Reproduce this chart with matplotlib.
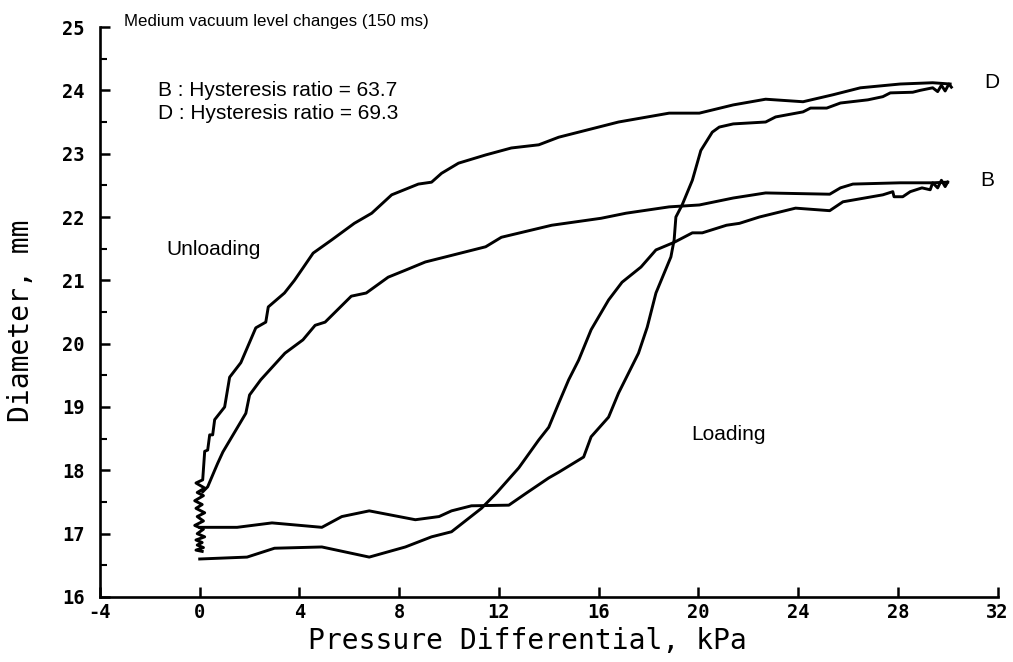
import matplotlib.pyplot as plt
from matplotlib.ticker import MultipleLocator

# D loop, loading branch (kPa, mm)
d_load_x = [0.0, 1.5, 2.9, 4.9, 5.7, 6.8, 8.65, 9.6, 10.1, 10.9, 12.4, 13.1, 14.0, 14.4,
            15.4, 15.7, 16.4, 16.8, 17.6, 17.95, 18.3, 18.9, 19.03, 19.1, 19.35, 19.76,
            20.1, 20.56, 20.84, 21.4, 22.7, 23.1, 24.2, 24.5, 25.15, 25.7, 26.8, 27.4,
            27.7, 28.6, 28.9, 29.4, 29.6, 29.75, 29.9, 30.05, 30.15]
d_load_y = [17.1, 17.1, 17.17, 17.1, 17.27, 17.36, 17.22, 17.27, 17.36, 17.44, 17.45, 17.64,
            17.88, 17.97, 18.21, 18.53, 18.84, 19.22, 19.85, 20.26, 20.8, 21.37, 21.64, 22.0,
            22.19, 22.58, 23.05, 23.34, 23.42, 23.47, 23.5, 23.58, 23.66, 23.72, 23.72, 23.8,
            23.85, 23.9, 23.96, 23.97, 24.0, 24.04, 23.98, 24.08, 23.99, 24.1, 24.05]

# D loop, unloading branch
d_unload_x = [30.1, 29.4, 28.1, 26.5, 25.4, 24.2, 22.7, 21.4, 20.04, 18.83, 16.8, 15.5, 14.4,
              13.6, 12.5, 11.47, 10.38, 9.7, 9.3, 8.77, 7.7, 6.9, 6.2, 5.3, 4.55, 4.15, 3.8,
              3.4, 2.75, 2.65, 2.25, 1.65, 1.2, 1.0, 0.6, 0.52, 0.4, 0.32, 0.2, 0.12,
              -0.15, 0.2, -0.1, 0.15, -0.2, 0.1, -0.15, 0.2, -0.1, 0.15, -0.2, 0.15, -0.1,
              0.2, -0.15, 0.1, -0.1, 0.15, -0.15, 0.1]
d_unload_y = [24.1, 24.12, 24.1, 24.04, 23.93, 23.82, 23.86, 23.77, 23.64, 23.64, 23.5, 23.37,
              23.26, 23.14, 23.09, 22.98, 22.85, 22.69, 22.55, 22.52, 22.35, 22.06, 21.9,
              21.64, 21.43, 21.2, 21.0, 20.8, 20.58, 20.34, 20.25, 19.7, 19.47, 19.0, 18.8,
              18.56, 18.56, 18.32, 18.3, 17.85,
              17.8, 17.72, 17.65, 17.6, 17.52, 17.46, 17.4, 17.33, 17.27, 17.2, 17.13,
              17.07, 17.0, 16.95, 16.9, 16.86, 16.82, 16.78, 16.74, 16.72]

# B loop, loading branch
b_load_x = [0.0, 1.9, 3.0, 4.9, 6.8, 8.25, 9.3, 10.1, 11.3, 11.9, 12.8, 13.6, 14.0, 14.4,
            14.8, 15.2, 15.7, 16.4, 16.94, 17.7, 18.3, 19.03, 19.76, 20.16, 21.13, 21.65,
            22.45, 23.9, 25.27, 25.8, 27.4, 27.8, 27.85, 28.2, 28.5, 28.97, 29.3, 29.4,
            29.6, 29.75, 29.9, 30.0]
b_load_y = [16.6, 16.63, 16.77, 16.79, 16.63, 16.79, 16.95, 17.03, 17.4, 17.64, 18.04, 18.48,
            18.68, 19.06, 19.43, 19.74, 20.22, 20.69, 20.97, 21.21, 21.48, 21.6, 21.75, 21.75,
            21.87, 21.9, 22.0, 22.14, 22.1, 22.24, 22.35, 22.4, 22.32, 22.32, 22.4, 22.46,
            22.43, 22.54, 22.46, 22.58, 22.48, 22.55]

# B loop, unloading branch
b_unload_x = [30.0, 29.4, 28.1, 26.2, 25.7, 25.27, 22.7, 21.4, 20.04, 18.83, 17.1, 16.1, 14.12,
              12.1, 11.47, 9.86, 9.05, 8.25, 7.56, 6.68, 6.08, 5.03, 4.63, 4.14, 3.42, 2.45,
              2.0, 1.85, 0.93, 0.72, 0.6, 0.32, 0.12]
b_unload_y = [22.55, 22.54, 22.54, 22.52, 22.46, 22.36, 22.38, 22.3, 22.19, 22.16, 22.06, 21.98,
              21.87, 21.68, 21.53, 21.37, 21.29, 21.16, 21.05, 20.8, 20.75, 20.34, 20.29, 20.06,
              19.85, 19.43, 19.19, 18.9, 18.29, 18.11, 18.0, 17.74, 17.66]

x_ticks = [-4, 0, 4, 8, 12, 16, 20, 24, 28, 32]
x_tick_labels = ['-4', '0', '4', '8', '12', '16', '20', '24', '28', '32']
y_ticks = [16, 17, 18, 19, 20, 21, 22, 23, 24, 25]

fig = plt.figure(figsize=(10.13, 6.62), dpi=100)
ax = fig.add_axes([0.0987, 0.0982, 0.886, 0.861])

for xs, ys in [(d_load_x, d_load_y), (d_unload_x, d_unload_y),
               (b_load_x, b_load_y), (b_unload_x, b_unload_y)]:
    ax.plot(xs, ys, color='black', lw=2.1, solid_joinstyle='round')

ax.set_xlim(-4, 32)
ax.set_ylim(16, 25)
ax.set_xticks(x_ticks)
ax.set_xticklabels(x_tick_labels)
ax.set_yticks(y_ticks)
ax.yaxis.set_minor_locator(MultipleLocator(0.5))

for side in ['top', 'right']:
    ax.spines[side].set_visible(False)
for side in ['left', 'bottom']:
    ax.spines[side].set_linewidth(1.9)

tick_font = dict(family='DejaVu Sans Mono', weight='bold', size=13.5)
ax.tick_params(axis='both', which='major', direction='in', length=7, width=1.8)
ax.tick_params(axis='y', which='minor', direction='in', length=5, width=1.5)
ax.tick_params(axis='y', pad=11)
ax.tick_params(axis='x', pad=4)
for lab in ax.get_xticklabels() + ax.get_yticklabels():
    lab.set_fontproperties(tick_font)

label_font = dict(family='DejaVu Sans Mono', size=20.2)
ax.set_xlabel('Pressure Differential, kPa', fontdict=label_font)
ax.set_ylabel('Diameter, mm', fontdict=label_font)
ax.xaxis.set_label_coords(0.476, -0.053)
ax.yaxis.set_label_coords(-0.072, 0.484)

txt = dict(family='Liberation Sans', size=15, color='black')
fig.text(0.122, 0.9675, 'Medium vacuum level changes (150 ms)', va='center',
         family='Liberation Sans', size=12.2)
ax.text(-1.68, 23.99, 'B : Hysteresis ratio = 63.7', va='center', **txt)
ax.text(-1.68, 23.63, 'D : Hysteresis ratio = 69.3', va='center', **txt)
ax.text(-1.33, 21.48, 'Unloading', va='center', **txt)
ax.text(19.72, 18.57, 'Loading', va='center', **txt)
ax.text(31.45, 24.13, 'D', va='center', **txt)
ax.text(31.3, 22.58, 'B', va='center', **txt)

fig.savefig('out.png', dpi=100)
